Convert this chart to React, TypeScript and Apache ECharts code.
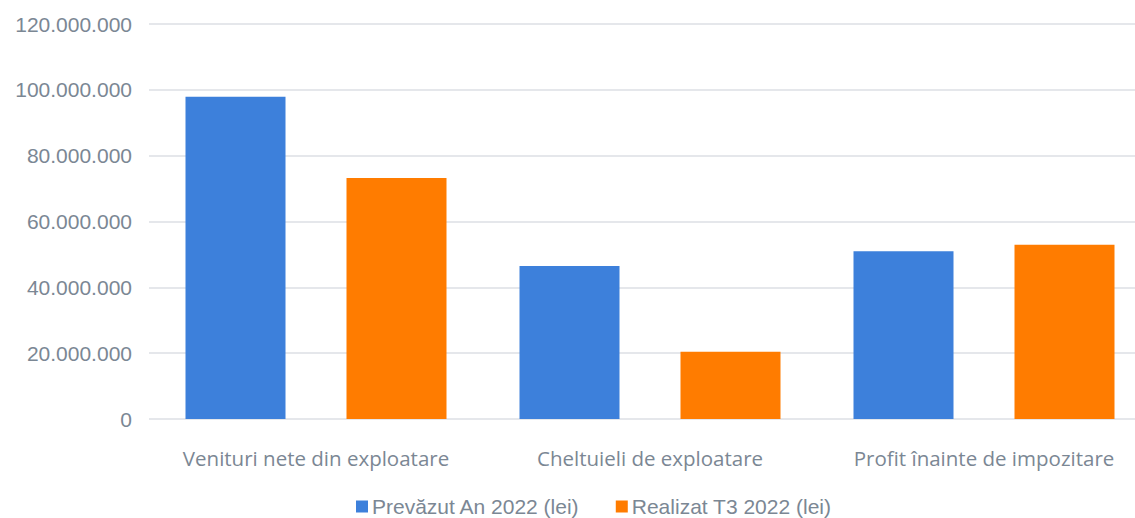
import React, { useEffect, useRef } from "react";
import * as echarts from "echarts";

const categories = ["Venituri nete din exploatare", "Cheltuieli de exploatare", "Profit înainte de impozitare"];
const seriesNames = ["Prevăzut An 2022 (lei)", "Realizat T3 2022 (lei)"];
const prevazut = [97900000, 46500000, 51000000];
const realizat = [73200000, 20400000, 52900000];
const colors = ["#3d80db", "#ff7c00"];

const fmt = (v: number) => String(Math.round(v)).replace(/\B(?=(\d{3})+(?!\d))/g, ".");

export default function App() {
  const ref = useRef<HTMLDivElement>(null);
  useEffect(() => {
    if (!ref.current) return;
    const chart = echarts.init(ref.current, null, { renderer: "svg" });
    chart.setOption({
      animation: false,
      backgroundColor: "#ffffff",
      grid: { left: 149, top: 24, width: 1002, height: 395, containLabel: false },
      legend: {
        left: 351,
        top: 491,
        itemWidth: 12,
        itemHeight: 12,
        itemGap: 36,
        icon: "rect",
        textStyle: { fontFamily: "Liberation Sans", fontSize: 21, color: "#7b8794", padding: [0, 0, 0, -1] },
        data: seriesNames,
      },
      xAxis: {
        type: "category",
        data: categories,
        axisLine: { show: false },
        axisTick: { show: false },
        axisLabel: { interval: 0, margin: 28, fontFamily: "Open Sans", fontSize: 20.5, color: "#7b8794" },
      },
      yAxis: {
        type: "value",
        min: 0,
        max: 120000000,
        interval: 20000000,
        axisLine: { show: false },
        axisTick: { show: false },
        axisLabel: { margin: 17, fontFamily: "Liberation Sans", fontSize: 21, color: "#7b8794", formatter: fmt },
        splitLine: { lineStyle: { color: "#dcdfe4", width: 1.5 } },
      },
      series: [
        { name: seriesNames[0], type: "bar", data: prevazut, barWidth: 100, barGap: "61%", itemStyle: { color: colors[0] } },
        { name: seriesNames[1], type: "bar", data: realizat, barWidth: 100, barGap: "61%", itemStyle: { color: colors[1] } },
      ],
    });
    return () => chart.dispose();
  }, []);
  return (
    <div style={{ position: "fixed", left: 0, top: 0, width: 1135, height: 518, overflow: "hidden", background: "#fff" }}>
      <div ref={ref} style={{ width: 1170, height: 518 }} />
    </div>
  );
}
